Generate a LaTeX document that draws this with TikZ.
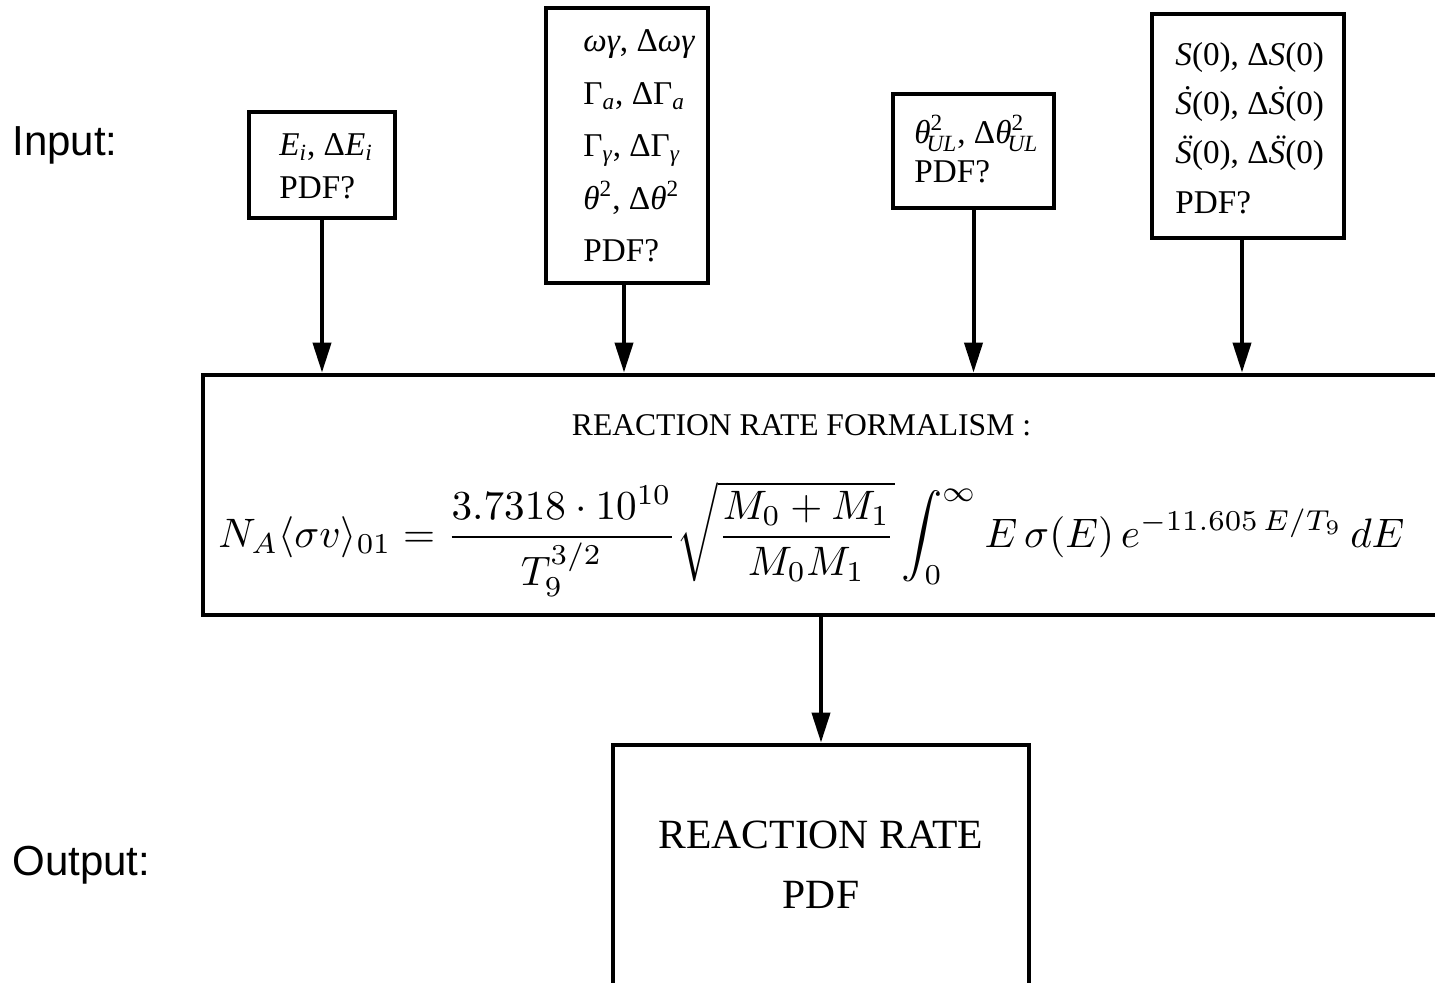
\documentclass[tikz,border=0pt]{standalone}
\usepackage{amsmath}
\usepackage[no-math]{fontspec}
\setmainfont{Liberation Serif}
\newfontfamily\sidefont{Liberation Sans}
\usetikzlibrary{arrows.meta,positioning}

\begin{document}
\begin{tikzpicture}[x=0.5pt, y=-0.5pt,
  inbox/.style = {draw, line width=2.2pt, inner sep=0pt},
  intext/.style = {anchor=west, align=left, inner sep=0pt, font=\fontsize{16.6}{#1}\selectfont},
  bigbox/.style = {draw, line width=2.4pt, inner sep=0pt},
  side/.style = {anchor=base west, inner sep=0pt, font=\sidefont\fontsize{21}{25}\selectfont},
  feed/.style = {line width=2pt, -{Triangle[length=15pt, width=9pt]}}]
\useasboundingbox (0,0) rectangle (1435,982);

% side labels
\node[side] (inlab) at (12,155) {Input:};
\node[side] (outlab) at (12,875) {Output:};

% input boxes
\node[inbox, minimum width=73pt, minimum height=53pt] (ener) at (322,165) {};
\node[intext=21.5] (enertxt) at (279,166)
  {$\textit{E}_{\textit{i}}$, Δ$\textit{E}_{\textit{i}}$\\ PDF?};

\node[inbox, minimum width=81pt, minimum height=137.5pt] (reson) at (627,145.5) {};
\node[intext=26.2] (resontxt) at (583,146)
  {\textit{ωγ}, Δ\textit{ωγ}\\
   Γ$_{\textit{a}}$, ΔΓ$_{\textit{a}}$\\
   Γ$_{\textit{γ}}$, ΔΓ$_{\textit{γ}}$\\
   \textit{θ}$^{\textrm{2}}$, Δ\textit{θ}$^{\textrm{2}}$\\
   PDF?};

\node[inbox, minimum width=80.5pt, minimum height=57pt] (upper) at (973.5,151) {};
\node[intext=19.5] (uppertxt) at (914,149)
  {\textit{θ}$^{\textrm{2}}_{\!\textit{UL}}$, Δ\textit{θ}$^{\textrm{2}}_{\!\textit{UL}}$\\ PDF?};

\node[inbox, minimum width=96pt, minimum height=112pt] (sfac) at (1248,126) {};
\node[intext=24.7] (sfactxt) at (1175,128)
  {\textit{S}(0), Δ\textit{S}(0)\\
   \textit{\accent"02D9 S}(0), Δ\textit{\accent"02D9 S}(0)\\
   \textit{\accent"00A8 S}(0), Δ\textit{\accent"00A8 S}(0)\\
   PDF?};

% formalism box
\node[bigbox, minimum width=618.5pt, minimum height=120pt] (formal) at (821.5,495) {};
\node[anchor=base, inner sep=0pt, font=\fontsize{15.8}{19}\selectfont] (formtitle) at (801.5,435)
  {REACTION RATE FORMALISM :};
\node[anchor=base, inner sep=0pt] (formula) at (811.5,547)
  {\resizebox{593pt}{!}{$\displaystyle N_A\langle\sigma v\rangle_{01}=\frac{3.7318\cdot 10^{10}}{T_9^{3/2}}
   \sqrt{\frac{M_0+M_1}{M_0M_1}}\int_0^\infty E\,\sigma(E)\,e^{-11.605\,E/T_9}\,dE$}};

% output box
\node[bigbox, minimum width=208pt, minimum height=122.5pt] (out) at (821,867.5) {};
\node[align=center, inner sep=0pt, font=\fontsize{20.8}{30}\selectfont] (outtxt) at (821,865)
  {REACTION RATE\\ PDF};

% arrows
\draw[feed] (ener) -- (ener |- formal.north);
\draw[feed] (reson.south -| 624,0) -- (624,0 |- formal.north);
\draw[feed] (upper) -- (upper |- formal.north);
\draw[feed] (sfac.south -| 1242,0) -- (1242,0 |- formal.north);
\draw[feed] (formal.south -| out.north) -- (out);
\end{tikzpicture}
\end{document}
